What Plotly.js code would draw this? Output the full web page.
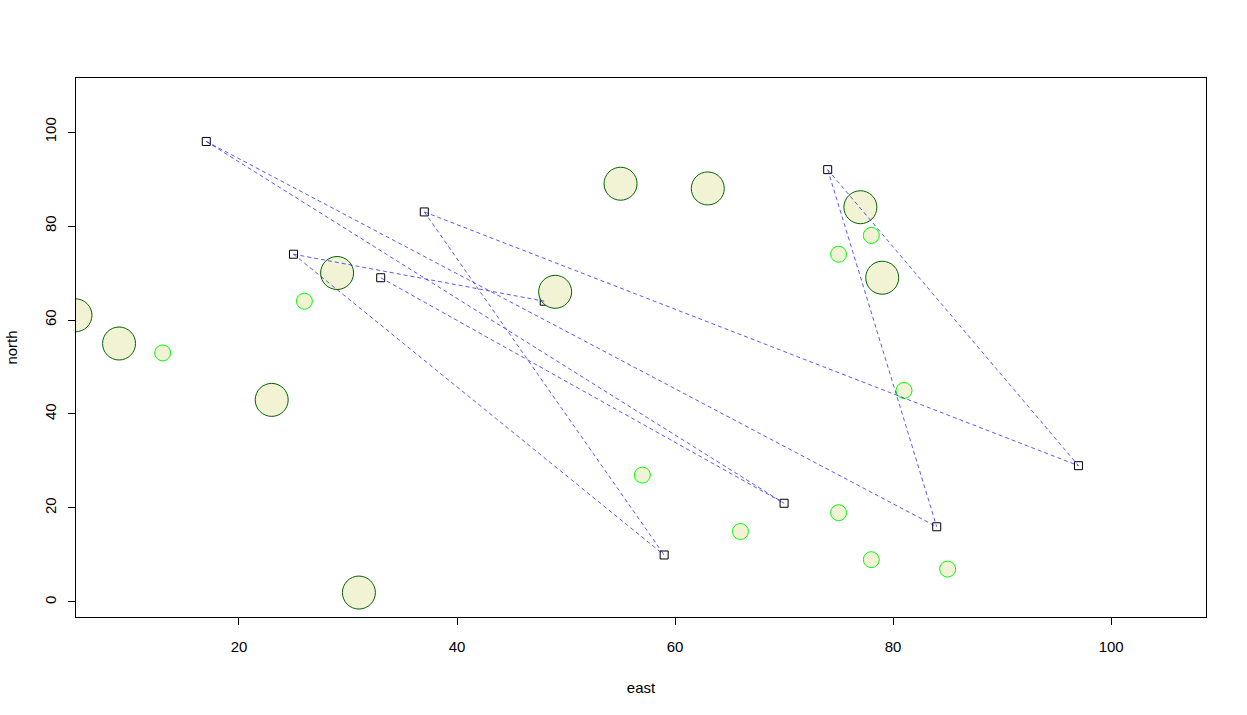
<!DOCTYPE html>
<html>
<head>
<meta charset="utf-8">
<script src="https://cdn.plot.ly/plotly-3.0.1.min.js"></script>
<style>html,body{margin:0;padding:0;background:#fff;}#chart{width:1247px;height:715px;}</style>
</head>
<body>
<div id="chart"></div>
<script>
// Square points (stations)
var sqEast  = [17, 25, 33, 37, 48, 59, 70, 74, 84, 97];
var sqNorth = [98, 74, 69, 83, 64, 10, 21, 92, 16, 29];
// Segment endpoints, as indices into the square arrays
var segFrom = [0, 0, 1, 1, 2, 3, 3, 7, 7];
var segTo   = [6, 8, 4, 5, 6, 5, 9, 8, 9];
// Large circles
var bigEast  = [5, 9, 23, 29, 31, 49, 55, 63, 77, 79];
var bigNorth = [61, 55, 43, 70, 2, 66, 89, 88, 84, 69];
// Small circles
var smallEast  = [13, 26, 57, 66, 75, 75, 78, 78, 81, 85];
var smallNorth = [53, 64, 27, 15, 74, 19, 78, 9, 45, 7];
// Tick values
var xTicks = [20, 40, 60, 80, 100];
var yTicks = [0, 20, 40, 60, 80, 100];

var lx = [], ly = [];
for (var i = 0; i < segFrom.length; i++) {
  lx.push(sqEast[segFrom[i]], sqEast[segTo[i]], null);
  ly.push(sqNorth[segFrom[i]], sqNorth[segTo[i]], null);
}

var traces = [
  {x: sqEast, y: sqNorth, type: 'scatter', mode: 'markers', hoverinfo: 'skip',
   marker: {symbol: 'square-open', size: 8, color: '#000', line: {width: 1, color: '#000'}}},
  {x: bigEast, y: bigNorth, type: 'scatter', mode: 'markers', hoverinfo: 'skip',
   marker: {symbol: 'circle', size: 33, color: '#F2F2D5', line: {width: 1, color: '#006400'}}},
  {x: smallEast, y: smallNorth, type: 'scatter', mode: 'markers', hoverinfo: 'skip',
   marker: {symbol: 'circle', size: 16, color: '#F2F2D5', line: {width: 1, color: '#00FF00'}}},
  {x: lx, y: ly, type: 'scatter', mode: 'lines', hoverinfo: 'skip', connectgaps: false,
   line: {color: 'rgba(0,0,255,0.65)', width: 1, dash: '4px,3px'}}
];

var font = {family: 'Liberation Sans, Arial, sans-serif', size: 15, color: '#000'};
var layout = {
  width: 1247, height: 715,
  margin: {l: 76, r: 41, t: 78, b: 98},
  paper_bgcolor: '#fff', plot_bgcolor: '#fff',
  showlegend: false,
  font: font,
  xaxis: {
    range: [5.05, 108.7], tickvals: xTicks, ticktext: xTicks.map(String),
    showgrid: false, zeroline: false, showline: true, mirror: true, linecolor: '#000', linewidth: 1,
    ticks: 'outside', ticklen: 7, tickcolor: '#000', tickwidth: 1, ticklabelstandoff: 9,
    tickfont: font,
    title: {text: 'east', font: font, standoff: 28}
  },
  yaxis: {
    range: [-3.2, 111.5], tickvals: yTicks, ticktext: yTicks.map(String), tickangle: -90,
    showgrid: false, zeroline: false, showline: true, mirror: true, linecolor: '#000', linewidth: 1,
    ticks: 'outside', ticklen: 7, tickcolor: '#000', tickwidth: 1, ticklabelstandoff: 6,
    tickfont: font,
    title: {text: 'north', font: font, standoff: 20}
  }
};

Plotly.newPlot('chart', traces, layout, {staticPlot: true, displayModeBar: false});
</script>
</body>
</html>
